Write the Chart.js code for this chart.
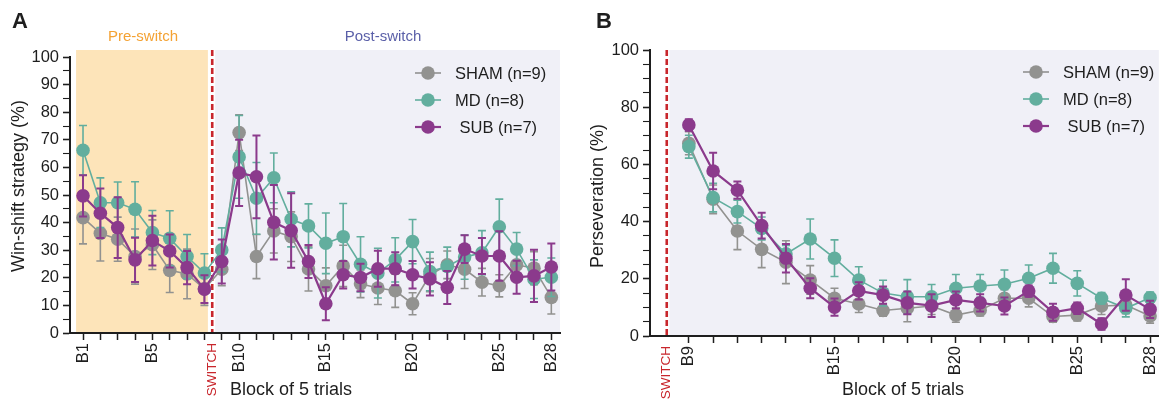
<!DOCTYPE html>
<html>
<head>
<meta charset="utf-8">
<script src="https://cdn.jsdelivr.net/npm/chart.js@4.4.0/dist/chart.umd.min.js"></script>
<style>
  html, body { margin: 0; padding: 0; background: #fff; }
  #wrap { position: relative; width: 1173px; height: 403px; }
  #chartA { position: absolute; left: 0; top: 0; }
  #chartB { position: absolute; left: 575px; top: 0; }
</style>
</head>
<body>
<div id="wrap">
  <canvas id="chartA" width="575" height="403"></canvas>
  <canvas id="chartB" width="598" height="403"></canvas>
</div>
<script>
const FONT = '"Liberation Sans", Arial, sans-serif';
const INK = '#1e1e1e';
const RED = '#C8262C';

// ---- panel A: win-shift strategy, blocks B1..B28 ----
const blocksA = [1, 2, 3, 4, 5, 6, 7, 8, 9, 10, 11, 12, 13, 14, 15, 16, 17, 18, 19, 20, 21, 22, 23, 24, 25, 26, 27, 28];
const shamA = [41.8, 36.1, 34.0, 27.7, 32.0, 22.7, 21.4, 16.0, 23.1, 72.6, 27.7, 37.0, 34.9, 23.2, 17.1, 24.3, 17.8, 16.3, 15.3, 10.6, 21.0, 24.7, 23.1, 18.4, 17.1, 24.7, 23.5, 12.9];
const mdA   = [66.2, 47.2, 47.2, 44.8, 36.4, 34.3, 27.7, 21.7, 30.1, 63.8, 48.8, 56.2, 41.2, 38.8, 32.5, 34.9, 24.9, 21.7, 26.5, 33.1, 22.3, 24.1, 27.5, 29.1, 38.5, 30.4, 19.5, 20.2];
const subA  = [49.7, 43.4, 38.2, 26.5, 33.5, 29.7, 23.7, 15.9, 25.9, 58.0, 56.6, 40.1, 37.1, 25.9, 10.6, 21.1, 20.1, 23.3, 23.3, 21.1, 19.6, 16.5, 30.4, 27.9, 27.9, 20.2, 20.7, 23.9];
const shamErrA = [9.5, 10, 8, 10, 9, 8, 9, 6, 6, 6.5, 8, 8, 9, 8, 6.5, 7.5, 5, 6, 6, 4, 6, 5, 7, 5, 4, 5, 6, 6];
const mdErrA   = [9, 9, 7.5, 10, 8, 10, 8, 7, 8, 15, 13, 9, 10, 8, 11, 12, 10, 9, 8, 8, 7, 7, 8, 8, 10, 6, 7, 7];
const subErrA  = [7.5, 9, 11, 8, 9, 6, 6, 5, 8, 12, 15, 13.5, 13.5, 6, 6, 5, 5, 6.5, 6, 5, 6, 6, 5, 6.5, 9, 6, 9.5, 8.5];
const labeledBlocksA = [1, 5, 10, 15, 20, 25, 28];
const switchA = 8.45;

// ---- panel B: perseveration, blocks B9..B28 ----
const blocksB = [9, 10, 11, 12, 13, 14, 15, 16, 17, 18, 19, 20, 21, 22, 23, 24, 25, 26, 27, 28];
const shamB = [67.4, 47.8, 36.7, 30.3, 25.8, 19.6, 13.2, 11.2, 8.9, 9.7, 10.5, 7.3, 9.0, 13.2, 13.2, 6.8, 7.3, 10.5, 10.8, 7.0];
const mdB   = [66.2, 48.4, 43.5, 37.6, 28.7, 33.9, 27.2, 19.6, 15.0, 13.7, 13.7, 16.7, 17.5, 18.1, 20.2, 23.7, 18.4, 13.2, 9.7, 13.4];
const subB  = [73.8, 57.7, 51.0, 38.6, 27.2, 16.7, 10.1, 15.8, 14.3, 11.6, 10.6, 12.6, 11.6, 10.5, 15.7, 8.3, 9.7, 4.2, 14.3, 9.3];
const shamErrB = [4, 5, 6.5, 6.4, 7.5, 5, 3.5, 3, 2, 4.7, 3, 2.5, 2, 3, 3, 2, 2, 3, 3, 2.5];
const mdErrB   = [4, 5, 4, 4, 3, 7, 6.4, 4.6, 4.5, 6, 4.3, 4.8, 4, 5, 4.6, 5.2, 4.4, 2, 3, 2];
const subErrB  = [2, 6.4, 3, 4.5, 5, 3.5, 3, 3, 3, 4, 4, 3, 3, 3, 2, 3, 2, 2, 5.5, 3];
const labeledBlocksB = [9, 15, 20, 25, 28];
const switchB = 8.09;

const groupLabels = ['SHAM (n=9)', 'MD (n=8)', ' SUB (n=7)'];
const groupColors = ['#929290', '#62AE9E', '#8B3A8C'];

function series(i, blocks, values, errs) {
  return {
    label: groupLabels[i],
    order: 3 - i,
    data: blocks.map((b, k) => ({ x: b, y: values[k] })),
    errors: errs,
    borderColor: groupColors[i],
    backgroundColor: groupColors[i],
    borderWidth: i === 2 ? 2.2 : 1.6,
    pointRadius: 6.8,
    pointHoverRadius: 6.8,
    pointBorderWidth: 0,
    pointBackgroundColor: groupColors[i],
    tension: 0
  };
}

// draws mean +/- error with caps, just under each dataset's own line
const errorBars = {
  id: 'errorBars',
  beforeDatasetDraw(chart, args) {
    const ds = chart.data.datasets[args.index];
    const xs = chart.scales.x, ys = chart.scales.y;
    const ctx = chart.ctx;
    ctx.save();
    ctx.strokeStyle = ds.borderColor;
    ctx.lineWidth = args.index === 2 ? 2 : 1.6;
    ds.data.forEach((p, k) => {
      const e = ds.errors[k];
      const px = xs.getPixelForValue(p.x);
      const top = ys.getPixelForValue(p.y + e);
      const bot = ys.getPixelForValue(Math.max(0, p.y - e));
      ctx.beginPath();
      ctx.moveTo(px, top); ctx.lineTo(px, bot);
      ctx.moveTo(px - 4, top); ctx.lineTo(px + 4, top);
      ctx.moveTo(px - 4, bot); ctx.lineTo(px + 4, bot);
      ctx.stroke();
    });
    ctx.restore();
  }
};

// shaded phases and the dashed switch line
const backdrop = {
  id: 'backdrop',
  beforeDraw(chart, args, opts) {
    const { ctx, chartArea: a } = chart;
    const x = chart.scales.x;
    const top = a.top - opts.extendTop;
    opts.bands.forEach(b => {
      const x0 = x.getPixelForValue(b.from);
      const x1 = b.to == null ? a.right : x.getPixelForValue(b.to);
      ctx.fillStyle = b.color;
      ctx.fillRect(x0, top, x1 - x0, a.bottom - top);
    });
    const sx = x.getPixelForValue(opts.switchAt);
    ctx.save();
    ctx.strokeStyle = RED;
    ctx.lineWidth = 2.6;
    ctx.setLineDash([6, 3]);
    ctx.beginPath();
    ctx.moveTo(sx, top);
    ctx.lineTo(sx, a.bottom);
    ctx.stroke();
    ctx.restore();
  }
};

// legend: short line with a dot on it
const lineLegend = {
  id: 'lineLegend',
  afterDraw(chart, args, opts) {
    const ctx = chart.ctx;
    ctx.save();
    ctx.font = '16.5px ' + FONT;
    ctx.textBaseline = 'middle';
    chart.data.datasets.forEach((ds, i) => {
      const y = opts.y + i * 27;
      ctx.strokeStyle = ds.borderColor;
      ctx.lineWidth = ds.borderWidth;
      ctx.beginPath();
      ctx.moveTo(opts.x, y);
      ctx.lineTo(opts.x + 26, y);
      ctx.stroke();
      ctx.fillStyle = ds.borderColor;
      ctx.beginPath();
      ctx.arc(opts.x + 13, y, 6.8, 0, Math.PI * 2);
      ctx.fill();
      ctx.fillStyle = INK;
      ctx.fillText(ds.label, opts.x + 40, y + 1);
    });
    ctx.restore();
  }
};

// panel letter, axis titles, phase labels
const panelText = {
  id: 'panelText',
  afterDraw(chart, args, opts) {
    const ctx = chart.ctx;
    ctx.save();
    ctx.fillStyle = INK;
    ctx.font = 'bold 22px ' + FONT;
    ctx.textBaseline = 'alphabetic';
    ctx.textAlign = 'left';
    ctx.fillText(opts.letter, opts.letterX, 28);

    ctx.font = '18px ' + FONT;
    ctx.textBaseline = 'middle';
    ctx.textAlign = opts.xTitleAlign;
    ctx.fillText('Block of 5 trials', opts.xTitleX, 390);

    ctx.save();
    ctx.translate(opts.yTitleX, opts.yTitleY);
    ctx.rotate(-Math.PI / 2);
    ctx.textAlign = 'center';
    ctx.fillText(opts.yTitle, 0, 0);
    ctx.restore();

    (opts.phases || []).forEach(p => {
      ctx.font = '15px ' + FONT;
      ctx.fillStyle = p.color;
      ctx.textAlign = 'center';
      ctx.fillText(p.text, p.x, 37);
    });
    ctx.restore();
  }
};

function xScale(min, max, blocks, labeled, switchAt, height) {
  return {
    type: 'linear',
    min: min, max: max, bounds: 'data',
    afterBuildTicks(scale) {
      scale.ticks = blocks.concat([switchAt]).sort((a, b) => a - b).map(v => ({ value: v }));
    },
    afterFit(scale) { scale.height = height; },
    border: { color: INK, width: 2 },
    grid: {
      drawOnChartArea: false, drawTicks: true, tickLength: 7, tickWidth: 1.5,
      tickColor: c => (c.tick && c.tick.value === switchAt ? 'rgba(0,0,0,0)' : INK)
    },
    ticks: {
      autoSkip: false, minRotation: 90, maxRotation: 90, padding: 3,
      color: c => (c.tick && c.tick.value === switchAt ? RED : INK),
      font: c => (c.tick && c.tick.value === switchAt ? { family: FONT, size: 13.5 } : { family: FONT, size: 16.5 }),
      callback: v => (v === switchAt ? 'SWITCH' : (labeled.includes(v) ? 'B' + v : ''))
    }
  };
}

function yScale(step, labelEvery, width) {
  return {
    type: 'linear', min: 0, max: 100,
    afterFit(scale) { scale.width = width; },
    border: { color: INK, width: 2 },
    grid: {
      drawOnChartArea: false, drawTicks: true, tickLength: 7, tickColor: INK,
      tickWidth: c => (c.tick && c.tick.value % labelEvery === 0 ? 1.6 : 1.1)
    },
    ticks: {
      stepSize: step, autoSkip: false, padding: 4, color: INK,
      font: { family: FONT, size: 16.5 },
      callback: v => (v % labelEvery === 0 ? String(v) : '')
    }
  };
}

new Chart(document.getElementById('chartA'), {
  type: 'line',
  data: {
    datasets: [
      series(0, blocksA, shamA, shamErrA),
      series(1, blocksA, mdA, mdErrA),
      series(2, blocksA, subA, subErrA)
    ]
  },
  options: {
    responsive: false, animation: false,
    layout: { padding: { left: 0, right: 15, top: 57, bottom: 0 } },
    scales: {
      x: xScale(0.25, 28.5, blocksA, labeledBlocksA, switchA, 70),
      y: yScale(5, 10, 70)
    },
    plugins: {
      legend: { display: false },
      tooltip: { enabled: false },
      backdrop: {
        extendTop: 7, switchAt: switchA,
        bands: [
          { from: 0.6, to: 8.2, color: '#FDE4B9' },
          { from: 8.62, to: null, color: '#F0F0F7' }
        ]
      },
      lineLegend: { x: 415, y: 73 },
      panelText: {
        letter: 'A', letterX: 12,
        xTitleAlign: 'left', xTitleX: 230,
        yTitle: 'Win-shift strategy (%)', yTitleX: 19, yTitleY: 186,
        phases: [
          { text: 'Pre-switch', x: 143, color: '#F4A233' },
          { text: 'Post-switch', x: 383, color: '#5A5FA8' }
        ]
      }
    }
  },
  plugins: [backdrop, errorBars, lineLegend, panelText]
});

new Chart(document.getElementById('chartB'), {
  type: 'line',
  data: {
    datasets: [
      series(0, blocksB, shamB, shamErrB),
      series(1, blocksB, mdB, mdErrB),
      series(2, blocksB, subB, subErrB)
    ]
  },
  options: {
    responsive: false, animation: false,
    layout: { padding: { left: 0, right: 1, top: 50, bottom: 0 } },
    scales: {
      x: xScale(7.4, 28.36, blocksB, labeledBlocksB, switchB, 67),
      y: yScale(5, 20, 75)
    },
    plugins: {
      legend: { display: false },
      tooltip: { enabled: false },
      backdrop: {
        extendTop: 0, switchAt: switchB,
        bands: [{ from: 8.2, to: null, color: '#F0F0F7' }]
      },
      lineLegend: { x: 448, y: 72 },
      panelText: {
        letter: 'B', letterX: 21,
        xTitleAlign: 'center', xTitleX: 328,
        yTitle: 'Perseveration (%)', yTitleX: 23, yTitleY: 196
      }
    }
  },
  plugins: [backdrop, errorBars, lineLegend, panelText]
});
</script>
</body>
</html>
